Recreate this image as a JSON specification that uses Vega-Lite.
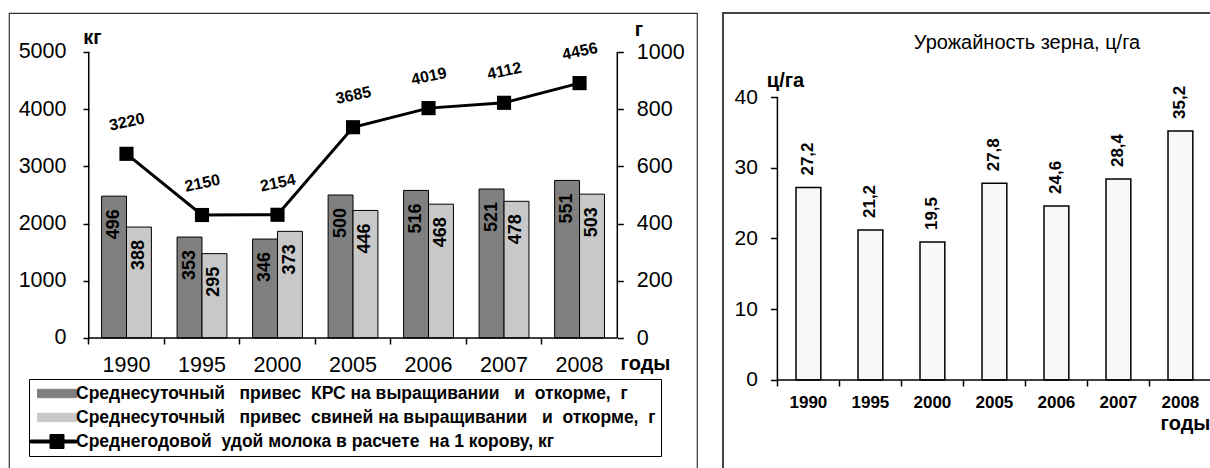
{
  "$schema": "https://vega.github.io/schema/vega-lite/v6.json",
  "padding": {"left": 8, "top": 12, "right": 0, "bottom": 0},
  "spacing": 24,
  "background": "white",
  "datasets": {
    "bars": [
      {"year": "1990", "series": "krs", "g": 496}, {"year": "1990", "series": "pig", "g": 388},
      {"year": "1995", "series": "krs", "g": 353}, {"year": "1995", "series": "pig", "g": 295},
      {"year": "2000", "series": "krs", "g": 346}, {"year": "2000", "series": "pig", "g": 373},
      {"year": "2005", "series": "krs", "g": 500}, {"year": "2005", "series": "pig", "g": 446},
      {"year": "2006", "series": "krs", "g": 516}, {"year": "2006", "series": "pig", "g": 468},
      {"year": "2007", "series": "krs", "g": 521}, {"year": "2007", "series": "pig", "g": 478},
      {"year": "2008", "series": "krs", "g": 551}, {"year": "2008", "series": "pig", "g": 503}
    ],
    "milk": [
      {"year": "1990", "series": "milk", "kg": 3220},
      {"year": "1995", "series": "milk", "kg": 2150},
      {"year": "2000", "series": "milk", "kg": 2154},
      {"year": "2005", "series": "milk", "kg": 3685},
      {"year": "2006", "series": "milk", "kg": 4019},
      {"year": "2007", "series": "milk", "kg": 4112},
      {"year": "2008", "series": "milk", "kg": 4456}
    ],
    "grain": [
      {"year": "1990", "yield": 27.2},
      {"year": "1995", "yield": 21.2},
      {"year": "2000", "yield": 19.5},
      {"year": "2005", "yield": 27.8},
      {"year": "2006", "yield": 24.6},
      {"year": "2007", "yield": 28.4},
      {"year": "2008", "yield": 35.2}
    ]
  },
  "hconcat": [
    {
      "width": 688,
      "height": 462,
      "view": {"stroke": "#333333", "strokeWidth": 1.2},
      "layer": [
        {
          "data": {"name": "bars"},
          "layer": [
            {
              "mark": {"type": "bar", "stroke": "#000000", "strokeWidth": 1},
              "encoding": {
                "x": {
                  "field": "year", "type": "nominal",
                  "scale": {"domain": ["1990", "1995", "2000", "2005", "2006", "2007", "2008"], "range": [79.73, 608.3], "paddingInner": 0.34, "paddingOuter": 0.17},
                  "axis": {
                    "orient": "bottom", "offset": -137, "domain": false, "grid": false,
                    "bandPosition": -0.2576, "tickSize": 6, "tickWidth": 1.5,
                    "labelAngle": 0, "labelFontSize": 21.5, "labelPadding": 10, "labelBaseline": "top",
                    "title": "годы", "titleX": 636, "titleY": 31, "titleAlign": "center", "titleBaseline": "alphabetic",
                    "titleAngle": 0, "titleFontSize": 20, "titleFontWeight": "bold",
                    "encode": {"ticks": {"y": {"value": -7}}}
                  }
                },
                "xOffset": {"field": "series", "type": "nominal", "scale": {"domain": ["krs", "pig"], "paddingInner": 0, "paddingOuter": 0}},
                "y": {
                  "field": "g", "type": "quantitative", "stack": null,
                  "scale": {"domain": [-479, 1136.4], "nice": false},
                  "axis": {
                    "orient": "right", "offset": -79.7, "values": [0, 200, 400, 600, 800, 1000], "format": "d",
                    "domain": false, "grid": false, "tickSize": 6, "tickWidth": 1.5,
                    "labelFontSize": 21.5, "labelPadding": 13,
                    "title": "г", "titleAngle": 0, "titleX": 21, "titleY": 22, "titleAlign": "center", "titleBaseline": "alphabetic",
                    "titleFontSize": 20, "titleFontWeight": "bold",
                    "encode": {"ticks": {"x": {"value": -6}}}
                  }
                },
                "color": {
                  "field": "series", "type": "nominal",
                  "scale": {"domain": ["krs", "pig", "milk"], "range": ["#808080", "#c8c8c8", "#000000"]},
                  "legend": {
                    "orient": "none", "legendX": 20, "legendY": 366, "direction": "vertical", "title": null,
                    "labelExpr": "datum.value === 'krs' ? 'Среднесуточный\u00a0\u00a0 привес\u00a0 КРС на выращивании\u00a0\u00a0 и\u00a0 откорме,\u00a0 г' : datum.value === 'pig' ? 'Среднесуточный\u00a0\u00a0 привес\u00a0 свиней на выращивании\u00a0\u00a0 и\u00a0 откорме,\u00a0 г' : 'Среднегодовой\u00a0 удой молока в расчете\u00a0 на 1 корову, кг'",
                    "labelFontSize": 17.5, "labelFontWeight": "bold", "labelColor": "#000000", "labelLimit": 800,
                    "symbolSize": 324, "symbolOffset": 13.5, "labelOffset": 9.5, "rowPadding": 6, "padding": 5,
                    "strokeColor": "#000000", "fillColor": "#ffffff",
                    "symbolType": {"expr": "datum.value === 'milk' ? 'M-2.944,-0.1667H2.1667V0.1667H-2.944Z M-0.778,-0.778H0.778V0.778H-0.778Z' : 'M-2.1667,-0.4667H2.1667V0.4667H-2.1667Z'"},
                    "symbolStrokeColor": "#000000", "symbolStrokeWidth": 1, "symbolOpacity": 1
                  }
                }
              }
            },
            {
              "mark": {"type": "text", "angle": -90, "align": "right", "baseline": "middle", "dx": -13, "fontSize": 18, "fontWeight": "bold", "color": "#000000"},
              "encoding": {
                "x": {"field": "year", "type": "nominal"},
                "xOffset": {"field": "series", "type": "nominal"},
                "y": {"field": "g", "type": "quantitative", "stack": null},
                "text": {"field": "g", "type": "quantitative", "format": "d"}
              }
            },
            {
              "data": {"values": [{}]},
              "mark": {"type": "rule", "strokeWidth": 1.5, "color": "#000000"},
              "encoding": {
                "x": {"datum": "2008", "type": "nominal", "bandPosition": 1.2576},
                "y": {"datum": 0, "type": "quantitative"},
                "y2": {"datum": 1000}
              }
            }
          ]
        },
        {
          "data": {"name": "milk"},
          "layer": [
            {
              "mark": {"type": "line", "strokeWidth": 3},
              "encoding": {
                "x": {"field": "year", "type": "nominal"},
                "y": {
                  "field": "kg", "type": "quantitative",
                  "scale": {"domain": [-2395.1, 5681.8], "nice": false},
                  "axis": {
                    "orient": "left", "offset": -80, "values": [0, 1000, 2000, 3000, 4000, 5000], "format": "d",
                    "domain": false, "grid": false, "tickSize": 6, "tickWidth": 1.5,
                    "labelFontSize": 21.5, "labelPadding": 17,
                    "title": "кг", "titleAngle": 0, "titleX": 3, "titleY": 30, "titleAlign": "center", "titleBaseline": "alphabetic",
                    "titleFontSize": 20, "titleFontWeight": "bold",
                    "encode": {"ticks": {"x": {"value": 6}}}
                  }
                },
                "color": {"field": "series", "type": "nominal"}
              }
            },
            {
              "mark": {"type": "point", "shape": "square", "filled": true, "size": 200, "opacity": 1},
              "encoding": {
                "x": {"field": "year", "type": "nominal"},
                "y": {"field": "kg", "type": "quantitative"},
                "color": {"field": "series", "type": "nominal"}
              }
            },
            {
              "mark": {"type": "text", "angle": -12, "align": "center", "baseline": "middle", "dx": 7, "dy": -31, "fontSize": 16, "fontWeight": "bold", "color": "#000000"},
              "encoding": {
                "x": {"field": "year", "type": "nominal"},
                "y": {"field": "kg", "type": "quantitative"},
                "text": {"field": "kg", "type": "quantitative", "format": "d"}
              }
            },
            {
              "data": {"values": [{}]},
              "mark": {"type": "rule", "strokeWidth": 1.5, "color": "#000000"},
              "encoding": {
                "x": {"datum": "1990", "type": "nominal", "bandPosition": -0.2576},
                "y": {"datum": 0, "type": "quantitative"},
                "y2": {"datum": 5000}
              }
            },
            {
              "data": {"values": [{}]},
              "mark": {"type": "rule", "strokeWidth": 1.5, "color": "#000000"},
              "encoding": {
                "x": {"datum": "1990", "type": "nominal", "bandPosition": -0.2576},
                "x2": {"datum": "2008", "bandPosition": 1.2576},
                "y": {"datum": 0, "type": "quantitative"}
              }
            }
          ]
        }
      ],
      "resolve": {"scale": {"y": "independent"}}
    },
    {
      "width": 496,
      "height": 462,
      "view": {"stroke": "#444444", "strokeWidth": 2},
      "title": {"text": "Урожайность зерна, ц/га", "fontSize": 20, "fontWeight": "normal", "anchor": "middle", "dx": 56, "offset": -56, "baseline": "alphabetic", "color": "#000000", "frame": "group"},
      "data": {"name": "grain"},
      "layer": [
        {
          "mark": {"type": "bar", "fill": "#f8f8f8", "stroke": "#000000", "strokeWidth": 1.5},
          "encoding": {
            "x": {
              "field": "year", "type": "nominal",
              "scale": {"domain": ["1990", "1995", "2000", "2005", "2006", "2007", "2008"], "paddingInner": 0.6, "paddingOuter": 0.8, "align": 0.736},
              "axis": {
                "orient": "bottom", "offset": -95, "domain": false, "grid": false,
                "bandPosition": -0.75, "tickSize": 6, "tickWidth": 1.5,
                "labelAngle": 0, "labelFontSize": 17, "labelFontWeight": "bold", "labelPadding": 8, "labelBaseline": "top",
                "title": "годы", "titleX": 462, "titleY": 49, "titleAlign": "center", "titleBaseline": "alphabetic",
                "titleAngle": 0, "titleFontSize": 20, "titleFontWeight": "bold",
                "encode": {"ticks": {"y": {"value": -6}}}
              }
            },
            "y": {
              "field": "yield", "type": "quantitative",
              "scale": {"domain": [-13.428, 51.873], "nice": false},
              "axis": {
                "orient": "left", "offset": -54.4, "values": [0, 10, 20, 30, 40], "format": "d",
                "domain": false, "grid": false, "tickSize": 7, "tickWidth": 1.5,
                "labelFontSize": 21, "labelPadding": 13,
                "title": "ц/га", "titleAngle": 0, "titleX": 7.6, "titleY": 73, "titleAlign": "center", "titleBaseline": "alphabetic",
                "titleFontSize": 20, "titleFontWeight": "bold",
                "encode": {"ticks": {"x": {"value": 7}}}
              }
            }
          }
        },
        {
          "mark": {"type": "text", "angle": -90, "align": "left", "baseline": "middle", "dx": 12, "fontSize": 17, "fontWeight": "bold", "color": "#000000"},
          "encoding": {
            "x": {"field": "year", "type": "nominal"},
            "y": {"field": "yield", "type": "quantitative"},
            "text": {"field": "yield", "type": "quantitative", "format": ".1f"}
          }
        },
        {
          "data": {"values": [{}]},
          "mark": {"type": "rule", "strokeWidth": 1.5, "color": "#000000"},
          "encoding": {
            "x": {"datum": "1990", "type": "nominal", "bandPosition": -0.75},
            "y": {"datum": 0, "type": "quantitative"},
            "y2": {"datum": 40}
          }
        },
        {
          "data": {"values": [{}]},
          "mark": {"type": "rule", "strokeWidth": 1.5, "color": "#000000"},
          "encoding": {
            "x": {"datum": "1990", "type": "nominal", "bandPosition": -0.75},
            "x2": {"datum": "2008", "bandPosition": 1.75},
            "y": {"datum": 0, "type": "quantitative"}
          }
        }
      ]
    }
  ],
  "config": {
    "font": "Liberation Sans",
    "locale": {"number": {"decimal": ",", "thousands": "\u00a0", "grouping": [3], "currency": ["", ""]}},
    "axis": {"labelColor": "#000000", "tickColor": "#000000", "titleColor": "#000000", "labelFont": "Liberation Sans", "titleFont": "Liberation Sans"},
    "legend": {"labelFont": "Liberation Sans"}
  }
}
